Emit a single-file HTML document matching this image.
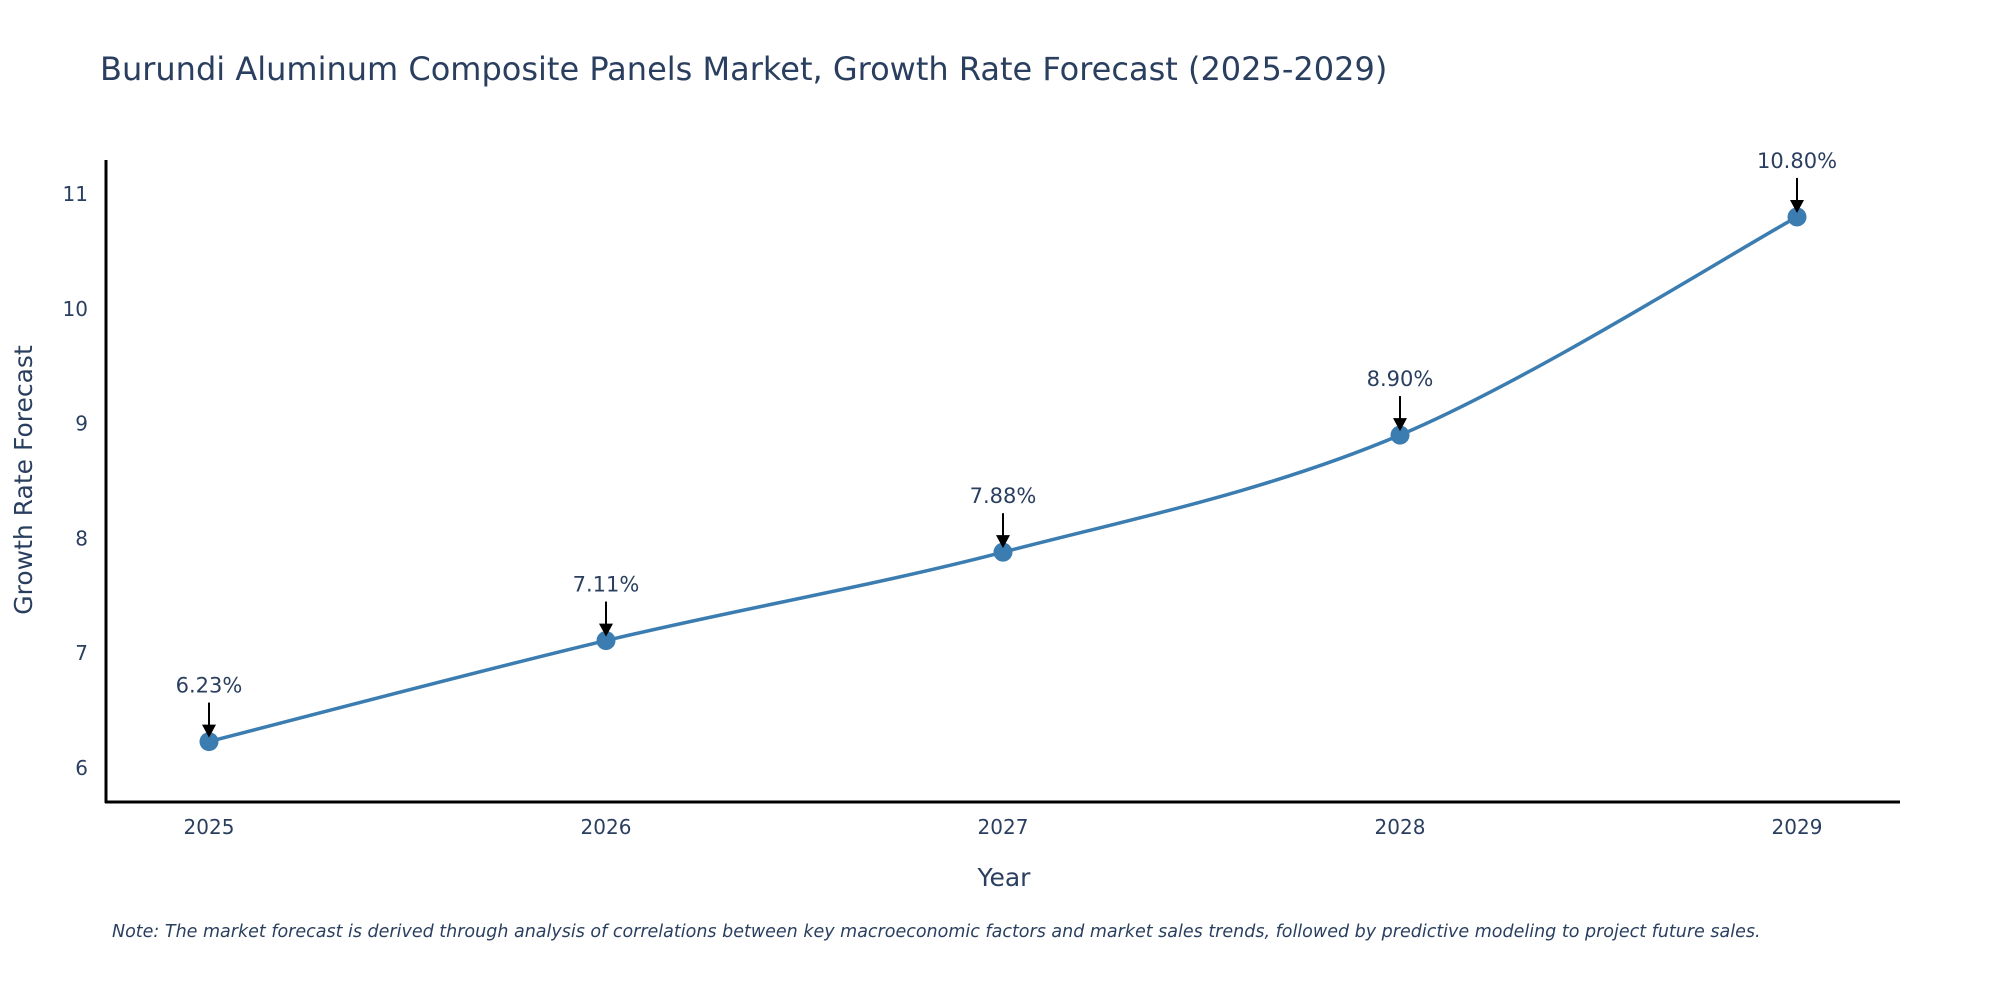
<!DOCTYPE html>
<html><head><meta charset="utf-8"><style>
body{margin:0;background:#fff;}
svg text{font-family:"DejaVu Sans","Liberation Sans",sans-serif;fill:#2a3f5f;}
</style></head><body>
<svg id="chart" width="2000" height="1000" xmlns="http://www.w3.org/2000/svg">
<text x="100" y="80" font-size="32">Burundi Aluminum Composite Panels Market, Growth Rate Forecast (2025-2029)</text>
<g id="yticks"></g><g id="xticks"></g>
<line x1="106" y1="160" x2="106" y2="803" stroke="#000" stroke-width="3"/>
<line x1="105" y1="802" x2="1900" y2="802" stroke="#000" stroke-width="3"/>
<text transform="translate(32,480) rotate(-90)" text-anchor="middle" font-size="25">Growth Rate Forecast</text>
<text x="1004" y="886" text-anchor="middle" font-size="25">Year</text>
<g id="series"></g>
<text x="112" y="937" font-size="17.5" font-style="italic">Note: The market forecast is derived through analysis of correlations between key macroeconomic factors and market sales trends, followed by predictive modeling to project future sales.</text>
</svg>
<script>
const years=["2025","2026","2027","2028","2029"];
const values=[6.23,7.11,7.88,8.90,10.80];
const labels=["6.23%","7.11%","7.88%","8.90%","10.80%"];
const yTicks=[6,7,8,9,10,11];
const NS="http://www.w3.org/2000/svg";
const xs=i=>209+i*397;
const ys=v=>768-(v-6)*114.8;
function mk(tag,attrs,parent){const e=document.createElementNS(NS,tag);for(const k in attrs)e.setAttribute(k,attrs[k]);parent.appendChild(e);return e;}
const yg=document.getElementById('yticks');
yTicks.forEach(t=>{const e=mk('text',{x:88,y:ys(t)+7,'text-anchor':'end','font-size':'20'},yg);


e.textContent=t;});
const xg=document.getElementById('xticks');
years.forEach((y,i)=>{const e=mk('text',{x:xs(i),y:834,'text-anchor':'middle','font-size':'20'},xg);


e.textContent=y;});
const sg=document.getElementById('series');
const P=values.map((v,i)=>[xs(i),ys(v)]);
let d=`M${P[0][0]},${P[0][1]}`;
for(let i=0;i<P.length-1;i++){const p0=P[Math.max(0,i-1)],p1=P[i],p2=P[i+1],p3=P[Math.min(P.length-1,i+2)];const s=6;
d+=` C${p1[0]+(p2[0]-p0[0])/s},${p1[1]+(p2[1]-p0[1])/s} ${p2[0]-(p3[0]-p1[0])/s},${p2[1]-(p3[1]-p1[1])/s} ${p2[0]},${p2[1]}`;}
const line=mk('path',{d:d,fill:'none',stroke:'#3b7db1','stroke-width':'3.5'},sg);


P.forEach((p,i)=>{
const c=mk('circle',{cx:p[0],cy:p[1],r:9.5,fill:'#3b7db1'},sg);


const a=mk('line',{x1:p[0],y1:p[1]-39,x2:p[0],y2:p[1]-14,stroke:'#000','stroke-width':'2'},sg);


const h=mk('polygon',{points:`${p[0]-7},${p[1]-17} ${p[0]+7},${p[1]-17} ${p[0]},${p[1]-4}`,fill:'#000'},sg);


const t=mk('text',{x:p[0],y:p[1]-49,'text-anchor':'middle','font-size':'21'},sg);


t.textContent=labels[i];});
</script>
</body></html>
